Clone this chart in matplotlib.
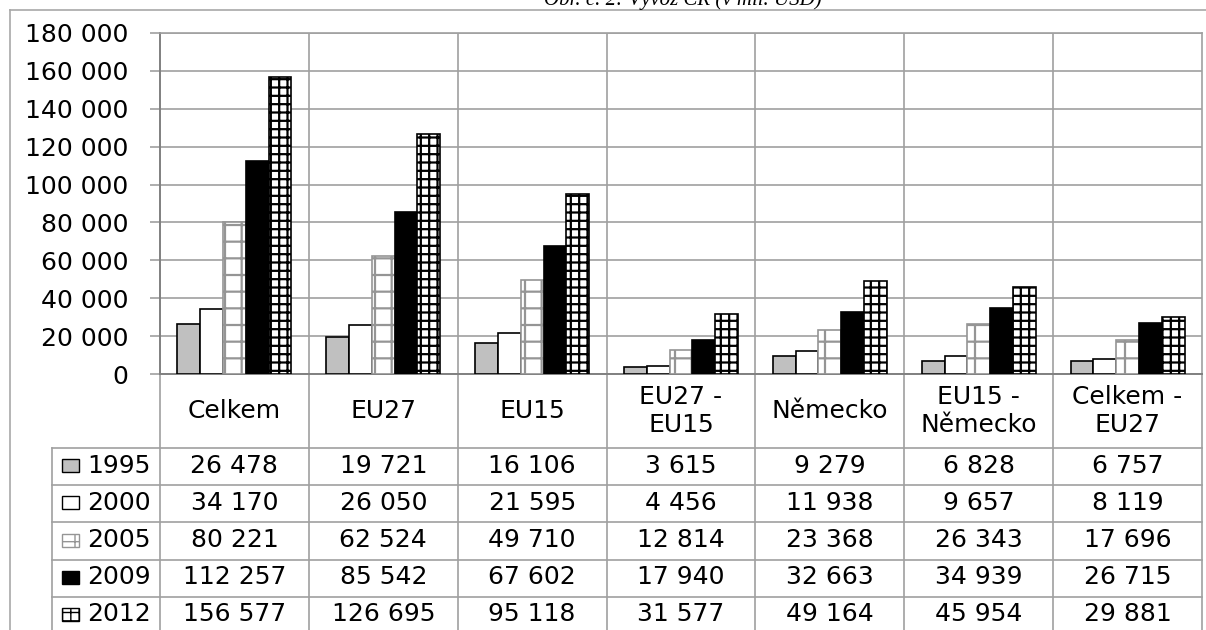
import matplotlib
matplotlib.use("Agg")
import matplotlib.pyplot as plt
from matplotlib.patches import Rectangle
from matplotlib.ticker import FuncFormatter, MultipleLocator
import numpy as np

plt.rcParams['font.family'] = ['DejaVu Sans']

# Export of the Czech Republic, mil. USD
categories = ["Celkem", "EU27", "EU15", "EU27 -\nEU15", "Německo",
              "EU15 -\nNěmecko", "Celkem -\nEU27"]
years = ["1995", "2000", "2005", "2009", "2012"]
v1995 = [26478, 19721, 16106, 3615, 9279, 6828, 6757]
v2000 = [34170, 26050, 21595, 4456, 11938, 9657, 8119]
v2005 = [80221, 62524, 49710, 12814, 23368, 26343, 17696]
v2009 = [112257, 85542, 67602, 17940, 32663, 34939, 26715]
v2012 = [156577, 126695, 95118, 31577, 49164, 45954, 29881]
series = [v1995, v2000, v2005, v2009, v2012]

styles = [
    dict(facecolor="#c0c0c0", edgecolor="black", hatch=None, hlw=1.0),
    dict(facecolor="white", edgecolor="black", hatch=None, hlw=1.0),
    dict(facecolor="white", edgecolor="#959595", hatch="+", hlw=1.6),
    dict(facecolor="black", edgecolor="black", hatch=None, hlw=1.0),
    dict(facecolor="white", edgecolor="black", hatch="++", hlw=1.6),
]

W, H = 1206, 630
fig = plt.figure(figsize=(W / 100, H / 100), dpi=100)

# pixel-space layer for the frame, title and data table
bg = fig.add_axes([0, 0, 1, 1])
bg.set_xlim(0, W)
bg.set_ylim(H, 0)
bg.axis("off")

grid_c = "#a0a0a0"
dark_c = "#808080"

# chart frame
bg.plot([10, W], [10, 10], color="#a8a8a8", lw=1.2)
bg.plot([10, 10], [10, H], color="#a8a8a8", lw=1.2)

bg.text(683, 5, "Obr. č. 2: Vývoz ČR (v mil. USD)", family="Liberation Serif",
        style="italic", fontsize=15, ha="center", va="baseline")

# plot area geometry (pixels)
px_left, px_right, px_top, px_zero = 160, 1202, 33, 374
ax = fig.add_axes([px_left / W, 1 - px_zero / H,
                   (px_right - px_left) / W, (px_zero - px_top) / H])
n = len(categories)
x = np.arange(n)
bw = 0.153
offsets = (np.arange(len(years)) - 2) * bw
for vals, off, st in zip(series, offsets, styles):
    bars = ax.bar(x + off, vals, width=bw, facecolor=st["facecolor"],
                  edgecolor=st["edgecolor"], hatch=st["hatch"], linewidth=1.2,
                  zorder=3)
    for b in bars:
        if hasattr(b, "set_hatch_linewidth"):
            b.set_hatch_linewidth(st["hlw"])

ax.set_xlim(-0.5, n - 0.5)
ax.set_ylim(0, 180000)
ax.yaxis.set_major_locator(MultipleLocator(20000))
ax.yaxis.set_major_formatter(FuncFormatter(lambda v, p: f"{int(v):,}".replace(",", " ")))
ax.set_xticks([])
ax.set_xticks(np.arange(n - 1) + 0.5, minor=True)
ax.tick_params(axis="x", which="minor", length=0)
ax.tick_params(axis="y", length=7.2, width=1.2, color=grid_c, pad=15.5,
               labelsize=18)
ax.grid(axis="y", which="major", color=grid_c, lw=1.2, zorder=0)
ax.grid(axis="x", which="minor", color=grid_c, lw=1.2, zorder=0)
for side in ["top", "right"]:
    ax.spines[side].set_color(grid_c)
    ax.spines[side].set_linewidth(1.2)
ax.spines["left"].set_color(dark_c)
ax.spines["bottom"].set_color(dark_c)
ax.spines["left"].set_linewidth(1.4)
ax.spines["bottom"].set_linewidth(1.4)

# data table under the plot
col_w = (px_right - px_left) / n
col_edges = [px_left + i * col_w for i in range(n + 1)]
header_bottom = 448
row_h = 37.2
row_lines = [header_bottom + i * row_h for i in range(len(years) + 1)]
legend_left = 52

for xe in col_edges:
    bg.plot([xe, xe], [px_zero, H + 5], color=grid_c, lw=1.2)
bg.plot([legend_left, legend_left], [header_bottom, H + 5], color=grid_c, lw=1.2)
for yl in row_lines:
    bg.plot([legend_left, px_right], [yl, yl], color=grid_c, lw=1.2)

for i, cat in enumerate(categories):
    bg.text(col_edges[i] + col_w / 2, 411, cat, ha="center", va="center",
            fontsize=18)

for r, (yr, vals, st) in enumerate(zip(years, series, styles)):
    yc = row_lines[r] + row_h / 2 - 1
    key = Rectangle((62, yc - 6.5), 17, 13, facecolor=st["facecolor"],
                    edgecolor=st["edgecolor"], hatch=st["hatch"], lw=1.0)
    if hasattr(key, "set_hatch_linewidth"):
        key.set_hatch_linewidth(1.0)
    bg.add_patch(key)
    bg.text(87, yc, yr, ha="left", va="center", fontsize=18)
    for i, v in enumerate(vals):
        bg.text(col_edges[i] + col_w / 2, yc, f"{v:,}".replace(",", " "),
                ha="center", va="center", fontsize=18)

fig.savefig("out.png", dpi=100)
